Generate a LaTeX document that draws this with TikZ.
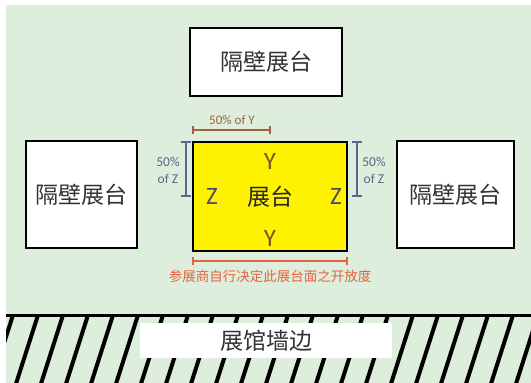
\documentclass[tikz,border=0pt]{standalone}
\usepackage{fontspec}
\setmainfont{Carlito}
\newfontfamily\cjk{Noto Sans CJK SC}
\definecolor{bggreen}{HTML}{DDEEDC}
\definecolor{booth}{HTML}{FFF200}
\definecolor{dimbrown}{HTML}{A5603E}
\definecolor{dimblue}{HTML}{56688F}
\definecolor{ycol}{HTML}{75561E}
\definecolor{zcol}{HTML}{4A4D66}
\definecolor{redtxt}{HTML}{E8623E}
\tikzset{
  neighbor/.style={draw=black, line width=2.2pt, fill=white, inner sep=0pt},
  boothbox/.style={draw=black, line width=2.2pt, fill=booth, inner sep=0pt},
  cjktext/.style={font=\cjk\fontsize{23}{26}\selectfont, text=black!80},
  dimline/.style={line width=1.3pt},
  letter/.style={font=\fontsize{25}{28}\selectfont},
  hatch/.style={line width=4pt, black},
}
\begin{document}
\begin{tikzpicture}[x=1pt,y=-1pt]
\useasboundingbox (0,0) rectangle (531,383);
\fill[white] (0,0) rectangle (531,383);
\fill[bggreen] (6,5) rectangle (531,383);
% hatch
\begin{scope}
\clip (6,315) rectangle (531,383);
\foreach \k in {-2,...,21}{
  \draw[hatch] ({38+25*\k},315) -- ({38+25*\k-24},390);
}
\end{scope}
\coordinate (wl) at (6,315);
\coordinate (wr) at (531,315);
\draw[line width=3pt] (wl) -- (wr);
\node[fill=white, minimum width=252pt, minimum height=35pt, inner sep=0pt] (wall) at (266,340.5) {};
\node[cjktext] at (wall.center) {展馆墙边};
% neighbor booths
\node[neighbor, minimum width=152pt, minimum height=68pt] (top) at (266,62) {};
\node[cjktext] at (top.center) {隔壁展台};
\node[neighbor, minimum width=111pt, minimum height=107pt] (left) at (81.5,194.5) {};
\node[cjktext] at (left.center) {隔壁展台};
\node[neighbor, minimum width=117pt, minimum height=107pt] (right) at (455.5,194.5) {};
\node[cjktext] at (right.center) {隔壁展台};
% booth
\node[boothbox, minimum width=154pt, minimum height=109pt] (booth) at (270,196.5) {};
\node[cjktext, text=black!85] (bl) at (270,197) {展台};
\node[text=ycol, letter] (ytop) at (270,161) {Y};
\node[text=ycol, letter] (ybot) at (270,238) {Y};
\node[text=zcol, letter] (zl) at (212,196) {Z};
\node[text=zcol, letter] (zr) at (336,196) {Z};
% top dimension
\coordinate (ta) at (193,130);
\coordinate (tb) at (270,130);
\draw[dimbrown, dimline] (ta) -- (tb);
\draw[dimbrown, dimline] ([yshift=-4pt]ta) -- ([yshift=4pt]ta);
\draw[dimbrown, dimline] ([yshift=-4pt]tb) -- ([yshift=4pt]tb);
\node[text=dimbrown, font=\fontsize{13}{14}\selectfont] (tl) at (232,120.5) {50\% of Y};
% left bracket
\coordinate (la) at (186,142);
\coordinate (lb) at (186,196);
\draw[dimblue, dimline] (la) -- (lb);
\draw[dimblue, dimline] ([xshift=-5pt]la) -- ([xshift=5pt]la);
\draw[dimblue, dimline] ([xshift=-5pt]lb) -- ([xshift=5pt]lb);
\node[text=dimblue, font=\fontsize{13.5}{16.5}\selectfont, align=center, inner sep=0pt] (ll) at (168,170.5) {50\%\\of Z};
% right bracket
\coordinate (ra) at (357,142);
\coordinate (rb) at (357,196);
\draw[dimblue, dimline] (ra) -- (rb);
\draw[dimblue, dimline] ([xshift=-5pt]ra) -- ([xshift=5pt]ra);
\draw[dimblue, dimline] ([xshift=-5pt]rb) -- ([xshift=5pt]rb);
\node[text=dimblue, font=\fontsize{13.5}{16.5}\selectfont, align=center, inner sep=0pt] (rl) at (374,170.5) {50\%\\of Z};
% bottom dimension
\coordinate (ba) at (193,261);
\coordinate (bb) at (347,261);
\draw[redtxt, dimline] (ba) -- (bb);
\draw[redtxt, dimline] ([yshift=-4pt]ba) -- ([yshift=4pt]ba);
\draw[redtxt, dimline] ([yshift=-4pt]bb) -- ([yshift=4pt]bb);
\node[text=redtxt, font=\cjk\fontsize{13.5}{15}\selectfont] (bt) at (270,276) {参展商自行决定此展台面之开放度};
\end{tikzpicture}
\end{document}
